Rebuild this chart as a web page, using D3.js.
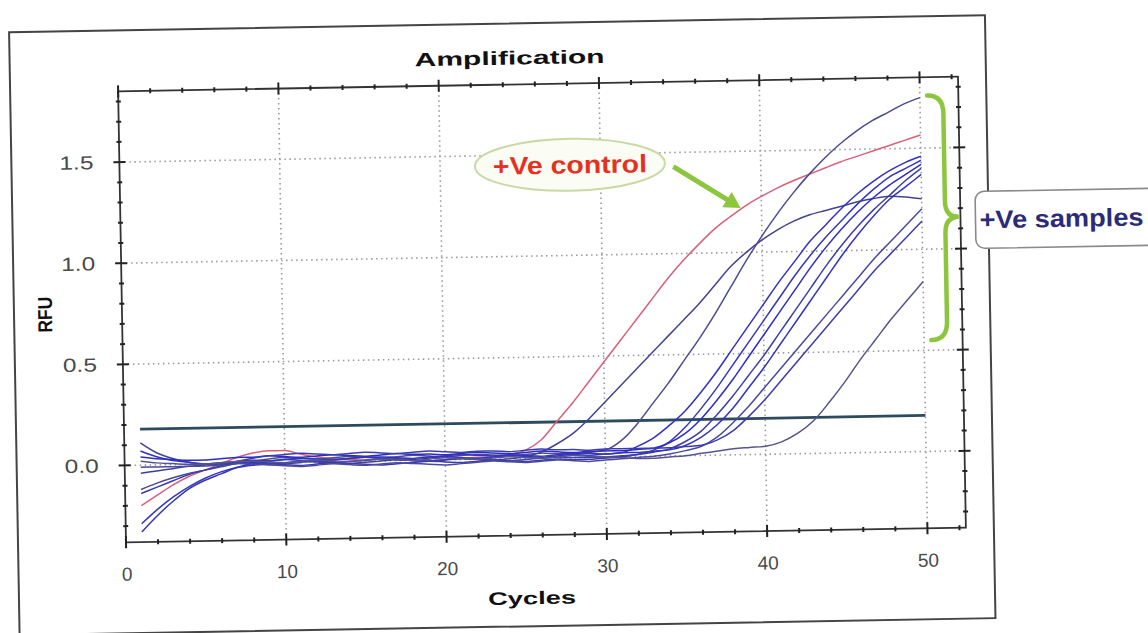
<!DOCTYPE html>
<html>
<head>
<meta charset="utf-8">
<script src="https://cdn.jsdelivr.net/npm/d3@7"></script>
<style>
body{margin:0;background:#fff;}
svg{display:block;font-family:"Liberation Sans",Arial,sans-serif;}
</style>
</head>
<body>
<svg id="canvas" width="1148" height="633"></svg>
<script>
// cycle numbers (x) and RFU readings
const cycles=[1,2,3,4,5,6,7,8,9,10,11,12,13,14,15,16,17,18,19,20,21,22,23,24,25,
  26,27,28,29,30,31,32,33,34,35,36,37,38,39,40,41,42,43,44,45,46,47,48,49,50];

const xMajor=[0,10,20,30,40,50];
const yMajor=[0,0.5,1.0,1.5];
const threshold=[[1,0.178],[50,0.178]];

const controlRFU=[-0.20,-0.15,-0.10,-0.06,-0.03,0.00,0.03,0.05,
  0.06,0.06,0.04,0.025,0.015,0.01,0.005,0.01,0.005,0.00,
  -0.005,0.00,0.005,0.01,0.01,0.02,0.04,0.09,0.18,0.27,
  0.37,0.47,0.57,0.67,0.77,0.87,0.96,1.04,1.115,1.175,
  1.23,1.275,1.315,1.35,1.38,1.41,1.44,1.465,1.49,1.515,
  1.54,1.565];

const sampleA=[-0.12,-0.09,-0.065,-0.045,-0.03,-0.015,0.00,0.01,
  0.02,0.025,0.02,0.015,0.02,0.025,0.02,0.015,0.02,0.025,
  0.02,0.015,0.02,0.025,0.02,0.015,0.02,0.025,0.02,0.02,
  0.025,0.035,0.08,0.16,0.26,0.36,0.47,0.58,0.70,0.83,
  0.96,1.08,1.19,1.29,1.38,1.46,1.53,1.59,1.64,1.68,
  1.72,1.75];
const sampleB=[0.11,0.06,0.03,0.01,0.00,-0.005,0.00,0.005,
  0.00,-0.005,0.00,0.005,0.00,-0.01,-0.005,0.00,0.005,0.00,
  -0.005,0.00,0.005,0.00,-0.005,0.00,0.01,0.03,0.07,0.12,
  0.19,0.27,0.35,0.43,0.51,0.59,0.67,0.75,0.84,0.93,
  1.00,1.06,1.11,1.15,1.18,1.20,1.22,1.24,1.255,1.265,
  1.26,1.25];
const sampleC=[0.07,0.04,0.02,0.01,0.00,0.005,0.01,0.015,
  0.01,0.015,0.01,0.005,0.01,0.015,0.02,0.015,0.01,0.005,
  0.01,0.015,0.01,0.005,0.01,0.015,0.01,0.005,0.01,0.015,
  0.01,0.015,0.02,0.05,0.09,0.15,0.22,0.31,0.41,0.52,
  0.63,0.74,0.85,0.95,1.05,1.13,1.21,1.28,1.34,1.39,
  1.43,1.46];
const sampleD=[-0.29,-0.22,-0.16,-0.11,-0.07,-0.04,-0.02,-0.01,
  -0.005,-0.01,-0.015,-0.01,-0.005,-0.01,-0.015,-0.02,-0.015,-0.01,
  -0.005,-0.01,-0.015,-0.01,-0.005,-0.01,-0.015,-0.01,-0.005,-0.01,
  -0.01,-0.005,0.00,0.01,0.03,0.07,0.14,0.23,0.33,0.44,
  0.55,0.66,0.77,0.88,0.98,1.07,1.15,1.23,1.30,1.36,
  1.40,1.44];
const sampleE=[0.04,0.03,0.025,0.02,0.02,0.025,0.03,0.03,
  0.035,0.03,0.025,0.03,0.035,0.03,0.025,0.03,0.035,0.03,
  0.03,0.025,0.03,0.035,0.03,0.025,0.03,0.035,0.03,0.025,
  0.03,0.03,0.03,0.035,0.04,0.065,0.11,0.18,0.27,0.37,
  0.48,0.59,0.70,0.81,0.92,1.02,1.11,1.19,1.26,1.32,
  1.37,1.42];
const sampleF=[-0.04,-0.03,-0.02,-0.01,-0.005,0.00,0.005,0.00,
  -0.005,0.00,0.005,0.00,-0.005,0.00,0.005,0.01,0.005,0.00,
  -0.005,0.00,0.005,0.00,-0.005,-0.01,-0.005,0.00,0.005,0.00,
  0.00,0.00,0.005,0.01,0.02,0.035,0.07,0.12,0.20,0.29,
  0.39,0.49,0.60,0.71,0.82,0.93,1.03,1.12,1.20,1.27,
  1.34,1.40];
const sampleG=[-0.33,-0.25,-0.18,-0.12,-0.08,-0.05,-0.02,0.00,
  0.01,0.015,0.02,0.015,0.01,0.015,0.02,0.02,0.015,0.01,
  0.015,0.02,0.025,0.02,0.015,0.02,0.015,0.01,0.015,0.02,
  0.02,0.015,0.02,0.02,0.025,0.03,0.05,0.09,0.15,0.23,
  0.33,0.43,0.54,0.65,0.76,0.87,0.98,1.08,1.17,1.25,
  1.31,1.37];
const sampleH=[-0.01,-0.01,-0.01,-0.01,-0.01,-0.005,0.00,-0.005,
  -0.01,-0.015,-0.02,-0.015,-0.01,-0.015,-0.02,-0.015,-0.01,-0.015,
  -0.02,-0.025,-0.02,-0.015,-0.01,-0.015,-0.02,-0.015,-0.01,-0.015,
  -0.02,-0.015,-0.01,-0.005,0.00,0.01,0.025,0.045,0.09,0.16,
  0.24,0.33,0.42,0.51,0.60,0.69,0.78,0.87,0.96,1.04,
  1.12,1.20];
const sampleI=[-0.14,-0.11,-0.08,-0.05,-0.03,-0.01,0.01,0.025,
  0.035,0.04,0.045,0.04,0.035,0.04,0.045,0.04,0.035,0.04,
  0.045,0.04,0.035,0.04,0.04,0.035,0.04,0.045,0.04,0.04,
  0.035,0.04,0.04,0.04,0.04,0.04,0.045,0.05,0.075,0.12,
  0.19,0.27,0.36,0.45,0.54,0.63,0.72,0.81,0.90,0.98,
  1.06,1.14];
const sampleJ=[0.02,0.01,0.005,0.00,0.00,0.005,0.01,0.01,
  0.005,0.00,0.005,0.01,0.005,0.00,0.005,0.01,0.005,0.00,
  0.005,0.01,0.005,0.00,0.005,0.01,0.005,0.00,0.005,0.01,
  0.005,0.00,-0.005,-0.01,-0.01,-0.005,0.00,0.01,0.02,0.03,
  0.035,0.04,0.06,0.10,0.16,0.25,0.35,0.46,0.56,0.66,
  0.75,0.84];

const samples=[sampleA,sampleB,sampleC,sampleD,sampleE,sampleF,sampleG,sampleH,sampleI,sampleJ];
const sampleColors=['#4c4c8e','#434390','#3232c0','#3838b4','#2c2cc8','#3e3ea8','#3434bc','#4a4a9c','#3c3cb0','#55558c'];

let canvas=d3.select('#canvas');
// the photographed chart sits slightly tilted
let chart=canvas.append('g').attr('transform','rotate(-1,542,309.5)');

let x=d3.scaleLinear().domain([0,52.4]).range([122,962]);
let y=d3.scaleLinear().domain([-0.38,1.85]).range([535,84]);
let isMajorY=(v)=>Math.abs(v*2-Math.round(v*2))<1e-6;

// outer frame
chart.append('rect')
  .attr('x',14).attr('y',23).attr('width',976).attr('height',603)
  .attr('fill','none').attr('stroke','#444').attr('stroke-width',2);

// dotted grid
chart.selectAll('.vgrid').data(xMajor.filter(v=>v>0)).enter().append('line')
  .attr('x1',d=>x(d)).attr('x2',d=>x(d)).attr('y1',y.range()[0]).attr('y2',y.range()[1])
  .attr('stroke','#9a9a9a').attr('stroke-width',1.6).attr('stroke-dasharray','1.5,3.5');
chart.selectAll('.hgrid').data(yMajor).enter().append('line')
  .attr('y1',d=>y(d)).attr('y2',d=>y(d)).attr('x1',x.range()[0]).attr('x2',x.range()[1])
  .attr('stroke','#9a9a9a').attr('stroke-width',1.6).attr('stroke-dasharray','1.5,3.5');

// plot border
chart.append('rect')
  .attr('x',x(0)).attr('y',y.range()[1]).attr('width',x.range()[1]-x(0)).attr('height',y.range()[0]-y.range()[1])
  .attr('fill','none').attr('stroke','#333').attr('stroke-width',1.8);

// ticks on all four sides
let ticks=chart.append('g').attr('stroke','#222').attr('stroke-width',2);
x.ticks(26).forEach(v=>{
  let len=xMajor.includes(v)?6:2.5;
  [y.range()[0],y.range()[1]].forEach(py=>{
    ticks.append('line').attr('x1',x(v)).attr('x2',x(v)).attr('y1',py-len).attr('y2',py+len);
  });
});
y.ticks(22).forEach(v=>{
  let len=isMajorY(v)?6:2.5;
  [x.range()[0],x.range()[1]].forEach(px=>{
    ticks.append('line').attr('y1',y(v)).attr('y2',y(v)).attr('x1',px-len).attr('x2',px+len);
  });
});

// tick labels
let xAxis=chart.append('g').attr('transform','translate(0,'+y.range()[0]+')')
  .call(d3.axisBottom(x).tickValues(xMajor).tickSize(0).tickPadding(25));
let yAxis=chart.append('g').attr('transform','translate('+x(0)+',0)')
  .call(d3.axisLeft(y).tickValues(yMajor).tickSize(0).tickPadding(26).tickFormat(d3.format('.1f')));
[xAxis,yAxis].forEach(a=>{
  a.select('.domain').remove();
  a.selectAll('text').attr('font-size',19).attr('font-family','"Liberation Sans",Arial,sans-serif').attr('fill','#4a4a4a');
});
yAxis.selectAll('text').attr('textLength',34).attr('lengthAdjust','spacingAndGlyphs');

// titles
chart.append('text').attr('x',514).attr('y',64).attr('text-anchor','middle')
  .attr('font-size',19).attr('font-weight','bold').attr('fill','#111')
  .attr('textLength',190).attr('lengthAdjust','spacingAndGlyphs').text('Amplification');
chart.append('text').attr('transform','translate(45,306) rotate(-90)').attr('text-anchor','middle').attr('dy','0.35em')
  .attr('font-size',20).attr('font-weight','bold').attr('fill','#111')
  .attr('textLength',36).attr('lengthAdjust','spacingAndGlyphs').text('RFU');
chart.append('text').attr('x',527).attr('y',604).attr('text-anchor','middle')
  .attr('font-size',18).attr('font-weight','bold').attr('fill','#111')
  .attr('textLength',88).attr('lengthAdjust','spacingAndGlyphs').text('Cycles');

// threshold
let line=d3.line().x(d=>x(d[0])).y(d=>y(d[1]));
chart.append('path').attr('d',line(threshold))
  .attr('fill','none').attr('stroke','#2d4b5c').attr('stroke-width',2.8);

// amplification curves
let curve=d3.line().x(d=>x(d[0])).y(d=>y(d[1])).curve(d3.curveMonotoneX);
chart.append('path').attr('d',curve(cycles.map((c,i)=>[c,controlRFU[i]])))
  .attr('fill','none').attr('stroke','#d8607a').attr('stroke-width',1.5);
chart.selectAll('.sample').data(samples).enter().append('path')
  .attr('class','sample')
  .attr('d',s=>curve(cycles.map((c,i)=>[c,s[i]])))
  .attr('fill','none')
  .attr('stroke',(s,i)=>sampleColors[i])
  .attr('stroke-width',1.5);

// annotations
const green='#8cc63f';
chart.append('ellipse').attr('cx',x(28.1)).attr('cy',y(1.448)).attr('rx',95).attr('ry',26)
  .attr('fill','#fbfcf4').attr('stroke','#c9d9a4').attr('stroke-width',2);
chart.append('text').attr('x',x(28.1)).attr('y',y(1.448)).attr('dy','0.35em').attr('text-anchor','middle')
  .attr('font-size',25).attr('font-weight','bold').attr('fill','#e5321f')
  .attr('textLength',154).attr('lengthAdjust','spacingAndGlyphs').text('+Ve control');

let ax0=x(34.55),ay0=y(1.43),ax1=x(38.7),ay1=y(1.22);
let ang=Math.atan2(ay1-ay0,ax1-ax0);
chart.append('line').attr('x1',ax0).attr('y1',ay0)
  .attr('x2',ax1-12*Math.cos(ang)).attr('y2',ay1-12*Math.sin(ang))
  .attr('stroke',green).attr('stroke-width',5);
chart.append('path')
  .attr('d','M0,0 L-16,-9 L-16,9 Z')
  .attr('transform','translate('+ax1+','+ay1+') rotate('+(ang*180/Math.PI)+')')
  .attr('fill',green);

let bx=x(50.7),bTop=y(1.76),bBot=y(0.55),bMid=y(1.157),tip=x(52.3);
chart.append('path')
  .attr('d','M'+(bx-4)+','+bTop+' Q'+(bx+12)+','+bTop+' '+(bx+12)+','+(bTop+18)+
    ' L'+(bx+12)+','+(bMid-16)+' Q'+(bx+12)+','+bMid+' '+tip+','+bMid+
    ' Q'+(bx+12)+','+bMid+' '+(bx+12)+','+(bMid+16)+
    ' L'+(bx+12)+','+(bBot-18)+' Q'+(bx+12)+','+bBot+' '+(bx-4)+','+bBot)
  .attr('fill','none').attr('stroke',green).attr('stroke-width',4.5).attr('stroke-linecap','round');

chart.append('rect').attr('x',977).attr('y',199).attr('width',190).attr('height',57).attr('rx',9)
  .attr('fill','#fff').attr('stroke','#8a8a8a').attr('stroke-width',1.6);
chart.append('text').attr('x',981).attr('y',236)
  .attr('font-size',25).attr('font-weight','bold').attr('fill','#2b2b7a')
  .attr('textLength',164).attr('lengthAdjust','spacingAndGlyphs').text('+Ve samples');
</script>
</body>
</html>
